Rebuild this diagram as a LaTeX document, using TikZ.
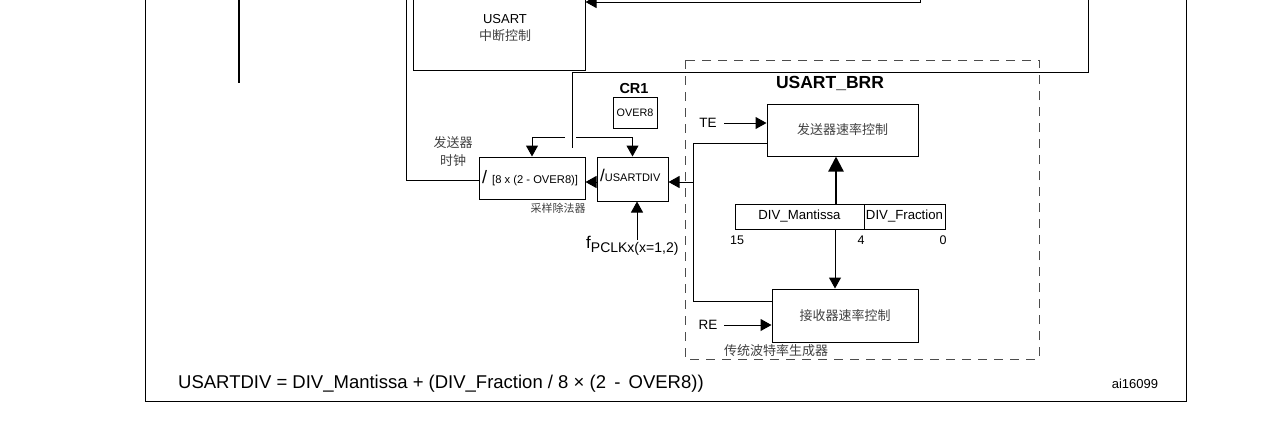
\documentclass[tikz,border=0pt]{standalone}
\usepackage{fontspec}
\setmainfont{Liberation Sans}
\newfontfamily\cjk{Noto Sans CJK SC}
\usetikzlibrary{arrows.meta}
\newcommand{\fsz}[1]{\fontsize{#1}{#1}\selectfont}
\tikzset{
  box/.style={draw, line width=1pt, inner sep=0pt, align=center},
  ln/.style={line width=1pt},
  arr/.style={line width=1pt, -{Triangle[length=11pt,width=12pt]}},
  tarr/.style={line width=2.2pt, -{Triangle[length=15pt,width=15pt]}},
  cjktxt/.style={font=\cjk\fsz{13}, text=black!75, inner sep=0pt},
  lbl/.style={inner sep=0pt},
}
\begin{document}
\begin{tikzpicture}[x=1pt,y=-1pt]
\useasboundingbox (0,0) rectangle (1279,437);
\clip (0,0) rectangle (1279,437);
% outer frame
\coordinate (of1) at (145,-5);
\coordinate (of2) at (145,401);
\coordinate (of3) at (1186,401);
\coordinate (of4) at (1186,-5);
\draw[ln] (of1) -- (of2) -- (of3) -- (of4);
% left stub
\coordinate (ls1) at (239,-5);
\coordinate (ls2) at (239,83);
\draw[line width=1.8pt] (ls1) -- (ls2);
% interrupt box
\node[box, minimum width=172pt, minimum height=100pt] (irq) at (499,20) {};
\node[lbl, font=\fsz{13}] (irqt) at (505,19) {USART};
\node[cjktxt, font=\cjk\fsz{13}] (irqc) at (505,36) {中断控制};
% top feedback
\coordinate (t1) at (920,-5);
\coordinate (t2) at (920,2);
\draw[arr] (t1) -- (t2) -- (irq.east|-t2);
% big line
\coordinate (b1) at (1088,-5);
\coordinate (b2) at (1088,72);
\coordinate (b3) at (572,72);
\coordinate (b4) at (572,148);
\draw[ln] (b1) -- (b2) -- (b3) -- (b4);
% dividers
\node[box, minimum width=106pt, minimum height=42pt] (div8) at (532,178) {};
\node[lbl, anchor=west] (div8t) at (482,178) {{\fsz{18}/}\hspace{5pt}{\fsz{11.2}[8 x (2 - OVER8)]}};
\node[box, minimum width=71pt, minimum height=44pt] (udiv) at (632.5,179) {};
\node[lbl, anchor=west] (udivt) at (600,175) {{\fsz{17}/}{\fsz{11}USARTDIV}};
\node[box, minimum width=44pt, minimum height=31pt, font=\fsz{10.8}] (over8) at (635,112.5) {OVER8};
\node[lbl, font=\bfseries\fsz{14.5}] (cr1) at (634,89) {CR1};
\node[cjktxt] (fsclk) at (453,143) {发送器};
\node[cjktxt] (fsclk2) at (453,161) {时钟};
\node[cjktxt, font=\cjk\fsz{11}] (samp) at (558,208) {采样除法器};
% split arrows
\coordinate (s1) at (565,137);
\coordinate (s2) at (576,137);
\draw[arr] (s1) -| (div8.north);
\draw[arr] (s2) -| (udiv.north);
% div8 out to left
\coordinate (l1) at (406,180);
\coordinate (l2) at (406,-5);
\draw[ln] (div8.west|-l1) -- (l1) -- (l2);
% udiv -> div8
\coordinate (k) at (597,182);
\draw[arr] (udiv.west|-k) -- (div8.east|-k);
% fpclk
\node[lbl, anchor=west] (fp) at (586,246) {{\fsz{17}f}\raisebox{-4pt}{\fsz{14}PCLKx(x=1,2)}};
\coordinate (f1) at (637,240);
\draw[arr] (f1) -- (f1|-udiv.south);
% BRR dashed
\draw[ln, draw=black!70, dash pattern=on 9pt off 7pt] (685,60) rectangle (1039,359);
\node[lbl, font=\bfseries\fsz{17.5}] (brr) at (830,83) {USART\_BRR};
\node[box, minimum width=151pt, minimum height=52pt] (tx) at (842.5,130) {};
\node[cjktxt] (txt) at (842.5,130) {发送器速率控制};
\node[box, minimum width=146pt, minimum height=53pt] (rx) at (845,315.5) {};
\node[cjktxt] (rxt) at (845,315.5) {接收器速率控制};
\node[box, minimum width=129pt, minimum height=25pt, font=\fsz{13.2}] (mant) at (799.5,216.5) {DIV\_Mantissa};
\node[box, minimum width=81pt, minimum height=25pt, font=\fsz{13.2}] (frac) at (904.5,216.5) {DIV\_Fraction};
\node[lbl, font=\fsz{12.5}] (n15) at (737,240) {15};
\node[lbl, font=\fsz{12.5}] (n4) at (861,240) {4};
\node[lbl, font=\fsz{12.5}] (n0) at (943,240) {0};
\node[lbl, font=\fsz{13.5}] (te) at (708,123) {TE};
\node[lbl, font=\fsz{13.5}] (re) at (708,325) {RE};
\coordinate (te1) at (724,123);
\coordinate (re1) at (724,325);
\draw[arr] (te1) -- (tx.west|-te1);
\draw[arr] (re1) -- (rx.west|-re1);
\node[cjktxt] (legacy) at (776,351) {传统波特率生成器};
% feedback loop tx/rx -> udiv
\coordinate (j1) at (693,143);
\coordinate (j2) at (693,301);
\coordinate (j3) at (693,182);
\draw[ln] (tx.west|-j1) -- (j1) -- (j2) -- (rx.west|-j2);
\draw[arr] (j3) -- (udiv.east|-j3);
% mantissa arrows
\coordinate (m1) at (836,204);
\draw[tarr] (m1) -- (m1|-tx.south);
\coordinate (m2) at (835,229);
\draw[arr] (m2) -- (m2|-rx.north);
% formula
\node[lbl, anchor=west, font=\fsz{18.5}] (formula) at (178,384) {USARTDIV = DIV\_Mantissa + (DIV\_Fraction / 8 × (2 \,-\, OVER8))};
\node[lbl, font=\fsz{13}] (ai) at (1135,384) {ai16099};
\end{tikzpicture}
\end{document}
